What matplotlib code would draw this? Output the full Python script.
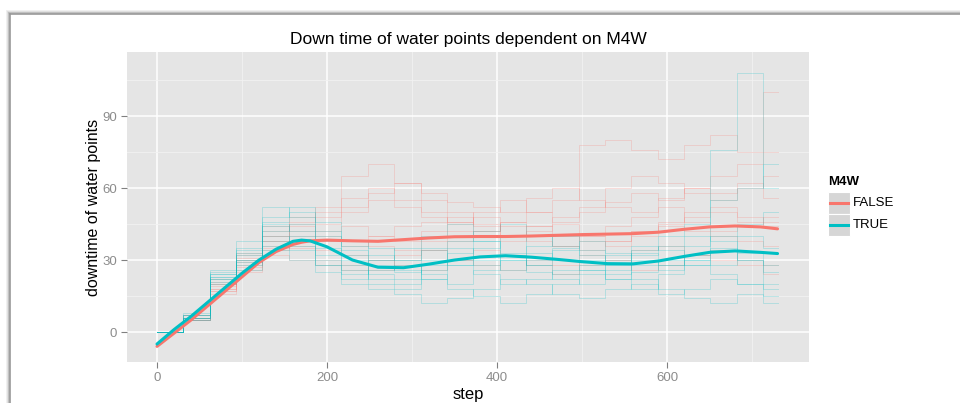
import matplotlib
matplotlib.use('Agg')
import matplotlib.pyplot as plt
from matplotlib.lines import Line2D
from matplotlib.patches import Rectangle
from matplotlib.ticker import MultipleLocator

plt.rcParams['font.family'] = ['Liberation Sans', 'DejaVu Sans']

# segment start steps of the simulation runs (value holds until next start)
seg_start = [0, 31, 62, 93, 124, 155, 186, 217, 248, 279, 310, 341,
             372, 403, 434, 465, 496, 527, 558, 589, 620, 651, 682, 713]
last_step = 730

# individual runs, M4W = TRUE
runs_true = [
    [0, 6, 22, 30, 45, 42, 35, 30, 28, 25, 30, 33, 38, 30, 28, 24, 26, 22, 25, 28, 32, 35, 30, 25],
    [0, 7, 24, 28, 38, 40, 30, 26, 22, 20, 26, 30, 28, 32, 25, 22, 20, 24, 30, 26, 30, 28, 33, 20],
    [0, 5, 20, 35, 52, 48, 40, 32, 20, 18, 22, 28, 35, 40, 33, 30, 26, 22, 18, 24, 28, 34, 40, 35],
    [0, 6, 25, 32, 40, 36, 28, 22, 30, 35, 40, 45, 38, 33, 28, 35, 38, 33, 28, 30, 36, 40, 45, 50],
    [0, 8, 23, 26, 34, 30, 25, 20, 18, 16, 12, 14, 18, 22, 20, 16, 14, 18, 20, 16, 18, 22, 20, 15],
    [0, 6, 21, 38, 48, 52, 46, 38, 35, 30, 35, 38, 42, 45, 40, 36, 32, 28, 34, 40, 45, 55, 60, 70],
    [0, 5, 22, 30, 36, 34, 28, 24, 26, 28, 24, 20, 26, 30, 36, 40, 34, 30, 33, 28, 30, 76, 108, 60],
    [0, 7, 26, 34, 42, 45, 38, 34, 30, 26, 22, 18, 15, 12, 16, 20, 24, 28, 22, 18, 14, 12, 16, 12],
    [0, 6, 24, 29, 44, 38, 32, 28, 24, 22, 28, 35, 30, 26, 30, 34, 30, 26, 32, 36, 40, 38, 30, 28],
    [0, 7, 23, 33, 46, 50, 42, 36, 32, 30, 34, 28, 24, 20, 22, 26, 28, 32, 36, 34, 28, 24, 20, 18],
]

# individual runs, M4W = FALSE
runs_false = [
    [0, 5, 18, 28, 38, 42, 45, 50, 55, 52, 48, 45, 50, 55, 50, 46, 52, 60, 65, 62, 58, 55, 60, 65],
    [0, 6, 20, 30, 40, 45, 48, 52, 58, 62, 55, 50, 45, 40, 44, 48, 50, 54, 58, 55, 60, 65, 70, 75],
    [0, 5, 17, 26, 34, 38, 40, 38, 36, 34, 38, 42, 40, 38, 42, 45, 40, 38, 42, 45, 48, 50, 46, 44],
    [0, 6, 19, 30, 42, 46, 50, 56, 60, 55, 50, 46, 42, 46, 50, 55, 78, 80, 76, 72, 78, 82, 75, 100],
    [0, 5, 16, 25, 32, 30, 28, 26, 30, 32, 34, 30, 28, 26, 30, 28, 32, 30, 34, 36, 32, 34, 30, 28],
    [0, 7, 21, 32, 40, 44, 38, 36, 40, 44, 46, 48, 44, 40, 38, 36, 34, 38, 42, 46, 50, 52, 48, 46],
    [0, 6, 18, 27, 35, 36, 34, 32, 30, 28, 26, 30, 34, 32, 28, 24, 28, 30, 26, 28, 32, 30, 28, 24],
    [0, 5, 20, 31, 44, 48, 52, 65, 70, 62, 58, 54, 52, 50, 56, 60, 55, 52, 50, 56, 60, 58, 62, 56],
    [0, 6, 17, 29, 36, 40, 42, 44, 40, 38, 42, 46, 48, 44, 40, 36, 40, 44, 48, 52, 46, 42, 44, 48],
    [0, 7, 22, 33, 38, 35, 30, 28, 26, 30, 34, 38, 42, 46, 44, 40, 38, 36, 40, 44, 42, 40, 38, 36],
]

# smoothed trend per group
smooth_steps = [0, 20, 40, 60, 80, 100, 120, 140, 160, 170, 180, 200, 230, 260, 290, 320,
                350, 380, 410, 440, 470, 500, 530, 560, 590, 620, 650, 680, 710, 730]
smooth_false = [-6, -0.5, 5, 11, 17, 23, 29, 33.5, 36.5, 37.4, 38, 38.3, 38, 37.8, 38.5, 39.2,
                39.7, 39.8, 39.8, 40, 40.3, 40.6, 40.8, 41, 41.6, 42.8, 43.8, 44.2, 43.8, 43]
smooth_true = [-5, 1, 6.5, 12.5, 18.5, 24.5, 30, 34.5, 37.8, 38.3, 38, 35.5, 30, 27, 26.8, 28.3,
               30, 31.3, 31.8, 31.2, 30.3, 29.3, 28.5, 28.4, 29.6, 31.5, 33.2, 33.8, 33.2, 32.7]

RED = '#F8766D'
TEAL = '#00BFC4'
W, H = 960, 403

fig = plt.figure(figsize=(9.6, 4.03), dpi=100)
fig.patch.set_facecolor('white')

# panel placed in pixel terms
left, right, top, bottom = 127, 809, 52, 362
ax = fig.add_axes([left / W, 1 - bottom / H, (right - left) / W, (bottom - top) / H])
ax.set_facecolor('#E5E5E5')

xs = seg_start + [last_step]
for run in runs_false:
    ax.step(xs, run + [run[-1]], where='post', color=RED, lw=0.7, alpha=0.22)
for run in runs_true:
    ax.step(xs, run + [run[-1]], where='post', color=TEAL, lw=0.7, alpha=0.22)

ax.plot(smooth_steps, smooth_false, color=RED, lw=2.2, solid_capstyle='round')
ax.plot(smooth_steps, smooth_true, color=TEAL, lw=2.2, solid_capstyle='round')

ax.set_xlim(-35.3, 767)
ax.set_ylim(-12.5, 116.7)
ax.xaxis.set_major_locator(MultipleLocator(200))
ax.xaxis.set_minor_locator(MultipleLocator(100))
ax.yaxis.set_major_locator(MultipleLocator(30))
ax.yaxis.set_minor_locator(MultipleLocator(15))
ax.grid(which='major', color='white', lw=1.1)
ax.grid(which='minor', color='#F2F2F2', lw=0.6)
ax.set_axisbelow(True)
for s in ax.spines.values():
    s.set_visible(False)
ax.tick_params(which='major', length=4, color='#808080', labelcolor='#8C8C8C',
               labelsize=9.5, pad=3)
ax.tick_params(which='minor', length=0)

ax.set_title('Down time of water points dependent on M4W', fontsize=12.5, pad=6)
ax.set_xlabel('step', fontsize=12, labelpad=2)
ax.set_ylabel('downtime of water points', fontsize=11.5, labelpad=1)

# legend drawn by hand in pixel coordinates
def fx(x):
    return x / W

def fy(y):
    return 1 - y / H

fig.text(fx(828), fy(182), 'M4W', fontsize=9.5, fontweight='bold', va='center', ha='left')
for i, (lab, col) in enumerate([('FALSE', RED), ('TRUE', TEAL)]):
    y0 = 192 + 22 * i
    fig.add_artist(Rectangle((fx(828), fy(y0 + 22)), 22 / W, 22 / H,
                             transform=fig.transFigure, facecolor='#D6D6D6',
                             edgecolor='white', lw=0.8))
    fig.add_artist(Line2D([fx(830), fx(848)], [fy(y0 + 11)] * 2,
                          transform=fig.transFigure, color=col, lw=2.2))
    fig.text(fx(853), fy(y0 + 11), lab, fontsize=9.5, va='center', ha='left')

# page frame with shadow
for off, c in [(3, '#EEEEEE'), (2, '#DDDDDD'), (1, '#BBBBBB'), (0, '#999999')]:
    fig.add_artist(Line2D([fx(10 - off), 1], [fy(14 - off)] * 2,
                          transform=fig.transFigure, color=c, lw=1.2))
    fig.add_artist(Line2D([fx(10 - off)] * 2, [0, fy(14 - off)],
                          transform=fig.transFigure, color=c, lw=1.2))

fig.savefig('out.png', dpi=100)
